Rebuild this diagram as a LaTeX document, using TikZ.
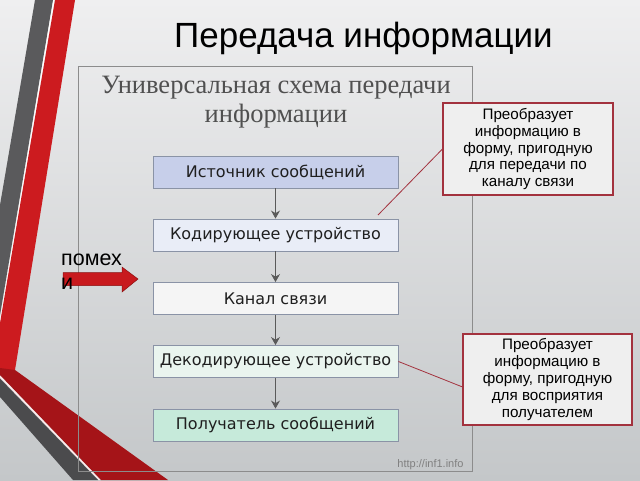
\documentclass[tikz,border=0pt]{standalone}
\usepackage{fontspec}
\setmainfont{Liberation Sans}
\newfontfamily\subserif{Liberation Serif}
\newfontfamily\boxfont{DejaVu Sans}
\usetikzlibrary{arrows.meta}
\definecolor{bgtop}{HTML}{EFEFF0}
\definecolor{bgbot}{HTML}{C4C7C9}
\definecolor{stripegray}{HTML}{5A5A5C}
\definecolor{stripegray2}{HTML}{4B4B4D}
\definecolor{stripered}{HTML}{CC1B1F}
\definecolor{stripered2}{HTML}{A51418}
\definecolor{framegray}{HTML}{8C8C8C}
\definecolor{boxborder}{HTML}{8A93A6}
\definecolor{fillA}{HTML}{C7CFEA}
\definecolor{fillB}{HTML}{E9EDF7}
\definecolor{fillC}{HTML}{F5F5F5}
\definecolor{fillD}{HTML}{EAF5EF}
\definecolor{fillE}{HTML}{C6EADA}
\definecolor{callborder}{HTML}{A3323E}
\definecolor{callfill}{HTML}{EFEFEF}
\definecolor{subcol}{HTML}{505050}
\definecolor{arrowgray}{HTML}{5A5A5A}
\definecolor{noisered}{HTML}{C8191E}
\definecolor{noiseedge}{HTML}{8A0F10}
\tikzset{
  stepbox/.style={draw=boxborder, line width=0.9pt, minimum width=245pt, minimum height=32pt,
    inner sep=0pt, font=\boxfont\fontsize{16}{18}\selectfont, text=black!88},
  flowarrow/.style={draw=arrowgray, line width=0.9pt, -{Stealth[length=8pt,width=9pt]}},
  callout/.style={draw=callborder, line width=1.1pt, fill=callfill, align=center,
    inner sep=0pt, font=\fontsize{15.2}{16.8}\selectfont},
  callline/.style={draw=callborder, line width=0.8pt},
}
\begin{document}
\begin{tikzpicture}[x=1pt,y=-1pt]
\useasboundingbox (0,0) rectangle (640,480);
% background
\shade[top color=bgtop, bottom color=bgbot] (0,0) rectangle (640,480);
% decorative stripes
\fill[stripegray] (35,0) -- (53,0) -- (0,315) -- (0,205) -- cycle;
\draw[white, line width=1.2pt] (54,0) -- (0,322);
\fill[stripered] (55,0) -- (75,0) -- (15,370) -- (0,372) -- (0,323) -- cycle;
\fill[stripered2] (0,368) -- (15,370) -- (168,480) -- (101,480) -- (0,375) -- cycle;
\draw[white!92!red, line width=1.3pt] (0,376.5) -- (99.5,480);
\fill[stripegray2] (0,378.5) -- (98,480) -- (73,480) -- (0,397) -- cycle;
% frame
\draw[framegray, line width=0.6pt] (78,66) rectangle (472,471);
% title
\node[anchor=base, font=\fontsize{35}{40}\selectfont, text=black] (title) at (363.5,47) {Передача информации};
% subtitle
\node[anchor=base, font=\subserif\fontsize{26.5}{30}\selectfont, text=subcol] (sub1) at (276,93) {Универсальная схема передачи};
\node[anchor=base, font=\subserif\fontsize{26.5}{30}\selectfont, text=subcol] (sub2) at (276,122) {информации};
% boxes
\node[stepbox, fill=fillA] (b1) at (275.5,172) {Источник сообщений};
\node[stepbox, fill=fillB] (b2) at (275.5,235) {Кодирующее устройство};
\node[stepbox, fill=fillC] (b3) at (275.5,298.5) {Канал связи};
\node[stepbox, fill=fillD] (b4) at (275.5,361.5) {Декодирующее устройство};
\node[stepbox, fill=fillE] (b5) at (275.5,425) {Получатель сообщений};
\draw[flowarrow] (b1) -- (b2);
\draw[flowarrow] (b2) -- (b3);
\draw[flowarrow] (b3) -- (b4);
\draw[flowarrow] (b4) -- (b5);
% callouts
\node[callout, minimum width=170pt, minimum height=92pt] (call1) at (528,149)
  {Преобразует\\информацию в\\форму, пригодную\\для передачи по\\каналу связи};
\node[callout, minimum width=169pt, minimum height=91pt] (call2) at (547.5,379.5)
  {Преобразует\\информацию в\\форму, пригодную\\для восприятия\\получателем};
\coordinate (c1) at (378,215);
\draw[callline] (call1.west) -- (c1);
\draw[callline] (b4.east) -- (call2.185);
% noise arrow
\fill[noisered, draw=noiseedge, line width=0.5pt] (63,272.5) -- (122,272.5) -- (122,267) -- (138,279) -- (122,292) -- (122,285.5) -- (63,285.5) -- cycle;
\node[anchor=base west, inner sep=0pt, font=\fontsize{21.5}{24}\selectfont] (noise1) at (61,265) {помех};
\node[anchor=base west, inner sep=0pt, font=\fontsize{21.5}{24}\selectfont] (noise2) at (61,289) {и};
% watermark
\node[anchor=base, inner sep=0pt, font=\fontsize{11}{12}\selectfont, text=black!50] (wm) at (430.5,467) {http://inf1.info};
\end{tikzpicture}
\end{document}
